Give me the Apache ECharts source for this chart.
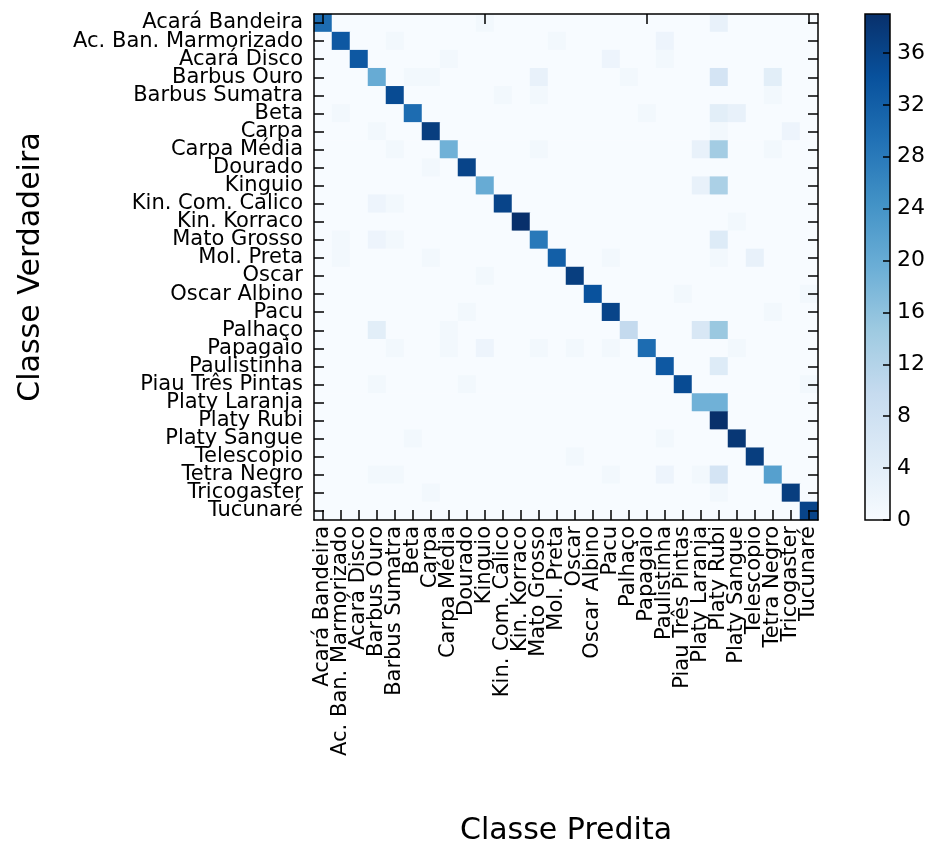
<!DOCTYPE html>
<html>
<head>
<meta charset="utf-8">
<script src="https://cdn.jsdelivr.net/npm/echarts@6/dist/echarts.min.js"></script>
<style>
  html, body { margin: 0; padding: 0; background: #ffffff; }
  #chart { width: 940px; height: 841px; }
</style>
</head>
<body>
<div id="chart"></div>
<script>
// Fish species (true class = rows, predicted class = columns)
const classes = [
  'Acará Bandeira', 'Ac. Ban. Marmorizado', 'Acará Disco', 'Barbus Ouro',
  'Barbus Sumatra', 'Beta', 'Carpa', 'Carpa Média', 'Dourado', 'Kinguio',
  'Kin. Com. Calico', 'Kin. Korraco', 'Mato Grosso', 'Mol. Preta', 'Oscar',
  'Oscar Albino', 'Pacu', 'Palhaço', 'Papagaio', 'Paulistinha',
  'Piau Três Pintas', 'Platy Laranja', 'Platy Rubi', 'Platy Sangue',
  'Telescopio', 'Tetra Negro', 'Tricogaster', 'Tucunaré'
];

// Confusion matrix counts, one row per true class
const confusion = [
  [30,0,0,0,0,0,0,0,0,1,0,0,0,0,0,0,0,0,0,0,0,0,3,0,0,0,0,0],
  [0,33,0,0,1,0,0,0,0,0,0,0,0,1,0,0,0,0,0,2,0,0,0,0,0,0,0,0],
  [0,0,33,0,0,0,0,1,0,0,0,0,0,0,0,0,2,0,0,1,0,0,0,0,0,0,0,0],
  [0,0,0,20,0,1,1,0,0,0,0,0,3,0,0,0,0,1,0,0,0,0,7,0,0,4,0,0],
  [0,0,0,0,35,0,0,0,0,0,1,0,1,0,0,0,0,0,0,0,0,0,0,0,0,1,0,0],
  [0,1,0,0,0,30,0,0,0,0,0,0,0,0,0,0,0,0,1,0,0,0,4,3,0,0,0,0],
  [0,0,0,1,0,0,37,0,0,0,0,0,0,0,0,0,0,0,0,0,0,0,1,0,0,0,2,0],
  [0,0,0,0,1,0,0,19,0,0,0,0,1,0,0,0,0,0,0,0,0,3,14,0,0,1,0,0],
  [0,0,0,0,0,0,1,0,36,0,0,0,0,0,0,0,0,0,0,0,0,0,0,0,0,0,0,0],
  [0,0,0,0,0,0,0,0,0,20,0,0,0,0,0,0,0,0,0,0,0,3,13,0,0,0,0,0],
  [0,0,0,2,1,0,0,0,0,0,36,0,0,0,0,0,0,0,0,0,0,0,0,0,0,0,0,0],
  [0,0,0,0,0,0,0,0,0,0,0,39,0,0,0,0,0,0,0,0,0,0,0,1,0,0,0,0],
  [0,1,0,2,1,0,0,0,0,0,0,0,28,0,0,0,0,0,0,0,0,0,5,0,0,0,0,0],
  [0,1,0,0,0,0,1,0,0,0,0,0,0,32,0,0,1,0,0,0,0,0,1,0,3,0,0,0],
  [0,0,0,0,0,0,0,0,0,1,0,0,0,0,37,0,0,0,0,0,0,0,0,0,0,0,0,0],
  [0,0,0,0,0,0,0,0,0,0,0,0,0,0,0,34,0,0,0,0,1,0,0,0,0,0,0,1],
  [0,0,0,0,0,0,0,0,1,0,0,0,0,0,0,0,36,0,0,0,0,0,0,0,0,1,0,0],
  [0,0,0,4,0,0,0,1,0,0,0,0,0,0,0,0,0,10,0,0,0,6,15,0,0,0,0,0],
  [0,0,0,0,1,0,0,1,0,2,0,0,1,0,1,0,1,0,30,0,0,0,0,1,0,0,0,0],
  [0,0,0,0,0,0,0,0,0,0,0,0,0,0,0,0,0,0,0,33,0,0,5,0,0,0,0,0],
  [0,0,0,1,0,0,0,0,1,0,0,0,0,0,0,0,0,0,0,0,35,0,0,0,0,0,0,1],
  [0,0,0,0,0,0,0,0,0,0,0,0,0,0,0,0,0,0,0,0,0,19,19,0,0,0,0,0],
  [0,0,0,0,0,0,0,0,0,0,0,0,0,0,0,0,0,0,0,0,0,0,39,0,0,0,0,0],
  [0,0,0,0,0,1,0,0,0,0,0,0,0,0,0,0,0,0,0,1,0,0,0,38,0,0,0,0],
  [0,0,0,0,0,0,0,0,0,0,0,0,0,0,1,0,0,0,0,0,0,0,0,0,37,0,0,0],
  [0,0,0,1,1,0,0,0,0,0,0,0,0,0,0,0,1,0,0,2,0,1,7,0,0,22,0,0],
  [0,0,0,0,0,0,1,0,0,0,0,0,0,0,0,0,0,0,0,0,0,0,1,0,0,0,37,0],
  [0,0,0,0,0,0,0,0,0,0,0,0,0,0,0,0,0,0,0,0,0,0,0,0,0,0,0,36]
];

// Colour scale range and colorbar tick step
const scaleMin = 0;
const scaleMax = 39;
const colorbarStep = 4;

// Sequential blue palette (white -> navy)
const blues = ['#f7fbff', '#deebf7', '#c6dbef', '#9ecae1', '#6baed6',
               '#4292c6', '#2171b5', '#08519c', '#08306b'];

const cells = [];
confusion.forEach((row, r) => row.forEach((v, c) => cells.push([c, r, v])));

// Colorbar fill: the same palette as a vertical gradient (low at bottom)
const colorbarFill = new echarts.graphic.LinearGradient(0, 1, 0, 0,
  blues.map((color, i) => ({ offset: i / (blues.length - 1), color })));

const FONT = 'DejaVu Sans';
const black = '#000000';
const tickStyle = { show: true, inside: true, alignWithLabel: true, length: 10,
                    lineStyle: { color: black, width: 1.5 } };
const lineStyle = { show: true, onZero: false, lineStyle: { color: black, width: 1.5 } };

const chart = echarts.init(document.getElementById('chart'), null, { renderer: 'canvas' });

chart.setOption({
  animation: false,
  backgroundColor: '#ffffff',
  grid: [
    { left: 314, top: 14, width: 504, height: 506, containLabel: false,
      outerBoundsMode: 'none' },
    { left: 865, top: 14, width: 25, height: 506, show: true, containLabel: false,
      outerBoundsMode: 'none',
      borderColor: black, borderWidth: 1.5, backgroundColor: colorbarFill }
  ],
  xAxis: [
    {
      type: 'category', gridIndex: 0, data: classes, position: 'bottom', z: 5,
      axisLine: lineStyle, axisTick: tickStyle, splitLine: { show: false },
      axisLabel: { interval: 0, rotate: 90, margin: 6, fontFamily: FONT,
                   fontSize: 21, color: black },
      name: 'Classe Predita', nameLocation: 'middle', nameGap: 296,
      nameTextStyle: { fontFamily: FONT, fontSize: 30, color: black }
    },
    {
      type: 'category', gridIndex: 0, data: classes, position: 'top', z: 5,
      axisLine: lineStyle, axisTick: tickStyle, axisLabel: { show: false },
      splitLine: { show: false }
    },
    { type: 'value', gridIndex: 1, show: false, min: 0, max: 1,
      axisLine: { onZero: false } }
  ],
  yAxis: [
    {
      type: 'category', gridIndex: 0, data: classes, inverse: true, position: 'left', z: 5,
      axisLine: lineStyle, axisTick: tickStyle, splitLine: { show: false },
      axisLabel: { interval: 0, margin: 11, fontFamily: FONT, fontSize: 21, color: black },
      name: 'Classe Verdadeira', nameLocation: 'middle', nameGap: 268, nameRotate: 90,
      nameTextStyle: { fontFamily: FONT, fontSize: 30, color: black }
    },
    {
      type: 'category', gridIndex: 0, data: classes, inverse: true, position: 'right', z: 5,
      axisLine: lineStyle, axisTick: tickStyle, axisLabel: { show: false },
      splitLine: { show: false }
    },
    {
      type: 'value', gridIndex: 1, position: 'right', min: scaleMin, max: scaleMax,
      interval: colorbarStep, z: 6,
      axisLine: { show: false, onZero: false }, splitLine: { show: false },
      axisTick: { show: true, inside: true, length: 7, lineStyle: { color: black, width: 1.5 } },
      axisLabel: { showMaxLabel: false, margin: 7, fontFamily: FONT, fontSize: 22, color: black }
    }
  ],
  visualMap: {
    type: 'continuous', seriesIndex: 0, min: scaleMin, max: scaleMax,
    show: false, inRange: { color: blues }
  },
  series: [
    {
      type: 'heatmap', xAxisIndex: 0, yAxisIndex: 0, data: cells,
      progressive: 0, itemStyle: { borderWidth: 0 },
      emphasis: { disabled: true }, z: 2
    }
  ]
});
</script>
</body>
</html>
